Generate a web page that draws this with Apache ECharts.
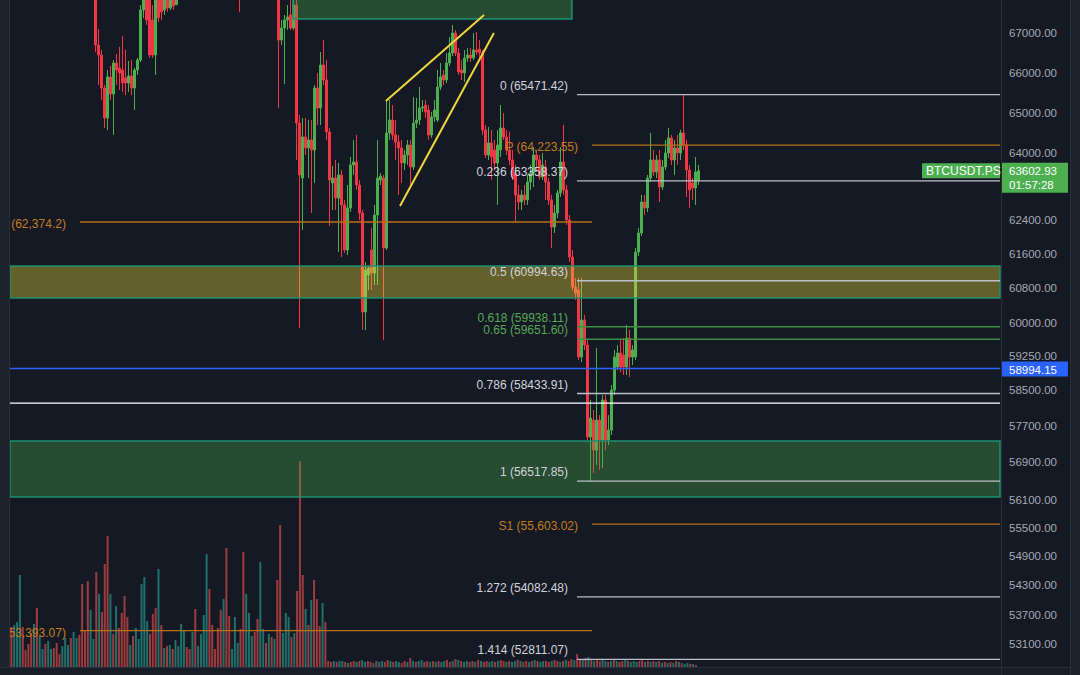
<!DOCTYPE html>
<html><head><meta charset="utf-8">
<script src="https://cdn.jsdelivr.net/npm/echarts@6/dist/echarts.min.js"></script>
<style>html,body{margin:0;padding:0;background:#151924;}#c{width:1080px;height:675px;}</style>
</head><body><div id="c"></div><script>
// ---------- data ----------
const slotCount = 330;          // candle slots on the time axis (incl. empty future space)
const volSlotCount = 350;       // volume histogram slots
const priceMin = 52659, priceMax = 67872;

// candles: [open, close, low, high]
const candles = [
 // 0-27 (above visible range)
 [69050,68720,68600,69240],[68720,68980,68640,69180],[68980,68650,68500,69120],[68650,68880,68560,69010],[68880,69210,68810,69380],
 [69210,68940,68870,69330],[68940,68610,68520,69060],[68610,68770,68480,68900],[68770,68450,68390,68860],[68450,68620,68310,68750],
 [68620,68900,68570,69020],[68900,69180,68850,69290],[69180,69420,69060,69560],[69420,69150,69080,69510],[69150,68870,68800,69240],
 [68870,68600,68540,68960],[68600,68330,68250,68700],[68330,68560,68280,68640],[68560,68840,68500,68930],[68840,68700,68620,68990],
 [68700,68420,68360,68780],[68420,68240,68160,68500],[68240,68470,68190,68560],[68470,68300,68220,68550],[68300,68150,68080,68380],
 [68150,68340,68100,68420],[68340,68200,68130,68410],[68200,68320,68060,68400],
 // 28-54
 [68260,66720,66542,68521],[66720,66466,65712,67128],[66466,65637,65338,66593],[65637,64892,64646,65712],[64892,65912,64597,66088],
 [65912,65487,65338,66189],[65487,66264,64475,66340],[66264,66088,65712,66492],[66139,66013,65587,66669],[66088,65762,65537,66949],
 [65887,65762,65462,66593],[65762,65938,65537,66315],[65938,65637,65462,66340],[65637,66088,65090,66139],[66088,66340,65963,66391],
 [66340,67614,66290,67743],[67614,68001,67409,68260],[68130,67358,67230,68390],[67872,66466,66391,68130],[67358,66466,66391,67743],
 [66466,67872,65963,68130],[67872,67409,67307,68130],[68001,67563,67358,68260],[67614,67950,67486,68130],[67950,67666,67563,68183],
 [67666,67872,67614,68130],[67872,67717,67614,68130],
 // 55-75 (above visible range)
 [67750,68120,67910,68200],[68120,68380,68050,68460],[68380,68650,68300,68720],[68650,68520,68430,68790],[68520,68810,68470,68900],
 [68810,69060,68740,69150],[69060,68890,68800,69170],[68890,69130,68840,69240],[69130,69380,69050,69470],[69380,69190,69100,69450],
 [69190,68960,68900,69260],[68960,68720,68650,69020],[68720,68880,68640,68950],[68880,68610,68550,68930],[68610,68420,68350,68690],
 [68420,68580,68370,68660],[68580,68310,68260,68640],[68310,68180,68100,68380],[68180,68350,68120,68430],[68350,68510,68290,68590],
 [68510,68300,68240,68570],
 // 76
 [68390,68001,67563,68652],
 // 77-87 (above visible range)
 [68050,68320,67980,68400],[68320,68560,68260,68640],[68560,68410,68330,68690],[68410,68690,68380,68770],[68690,68900,68620,68990],
 [68900,68730,68660,68980],[68730,68980,68700,69050],[68980,68820,68750,69060],[68820,68600,68540,68880],[68600,68450,68380,68660],
 [68450,68390,68300,68520],
 // 88-124
 [68390,68001,67880,68652],[68001,66846,65139,68260],[66846,67153,66720,67358],[67153,67358,65737,67486],[67358,67435,67102,67743],
 [67486,67153,67102,67872],[67153,67743,67102,68001],[67743,64769,63864,68001],[64769,63500,59909,64966],[63427,64426,62185,64892],
 [64426,64157,63986,64892],[64157,64352,63427,64843],[64352,64108,62589,64843],[64108,65637,63307,65712],[65637,65139,64720,66013],
 [65139,66214,64720,66542],[66214,65837,65712,66846],[65837,64548,64352,66340],[64548,63379,62280,64646],[63307,63427,62660,63718],
 [63427,62947,62660,63864],[62947,63500,61667,63791],[63500,62780,61549,63621],[62780,61714,61643,62899],[61714,62708,61596,63259],
 [62708,63743,62612,63937],[63743,63815,63500,64352],[63815,63259,63139,64475],[63259,62589,62422,63379],[62589,60275,59863,62660],
 [60275,61245,59863,61431],[61129,61291,60781,61361],[61714,61175,60781,62233],[61175,62541,60897,62780],[62541,63427,60897,64352],
 [63379,63476,63259,63548],[63427,61761,59635,63500],
 // 125-156
 [61761,64524,61714,65338],[64524,64843,64352,65338],[64843,64475,64352,65214],[64475,64303,63864,64843],[64303,64157,63019,64475],
 [64157,63791,63307,64352],[63791,63986,63621,64108],[63986,64230,63743,64352],[64230,63694,63211,64352],[63694,64769,63621,65412],
 [64769,64843,64646,65388],[64843,65139,64720,65662],[65139,65164,65041,65338],[65214,65041,64892,65338],[65090,64475,64352,65214],
 [64475,64917,64401,65041],[64917,65090,64794,65338],[64843,65662,64794,66088],[65662,65912,65587,66264],[65963,65837,65712,66088],
 [65837,66264,65762,66517],[66264,66517,66189,66923],[66517,67025,66441,67230],[67025,66517,66441,67102],[66517,66038,65963,66644],
 [66088,66013,65837,66340],[66013,66391,65787,66593],[66391,66466,66290,66644],[66466,66391,66290,66644],[66391,66593,66340,67025],
 [66593,66542,66466,67051],[66618,66517,66391,66846],
 // 157-188
 [66517,64597,64475,66593],[64597,63986,63913,64720],[63986,64279,63864,64671],[64279,63937,63379,64597],[64108,63791,63621,64352],
 [63791,64230,62780,64597],[64108,64646,63937,65214],[64646,64426,64352,65016],[64426,64108,63986,64597],[64108,63864,63743,64548],
 [63864,63452,63379,64108],[63548,63019,62375,63743],[63019,62851,62660,63259],[62851,63019,62660,63139],[63019,62899,62780,63259],
 [62899,63331,62780,63500],[63331,63548,63139,63743],[63548,63986,63211,64181],[63986,63864,63573,64108],[63864,63452,63379,63986],
 [63452,63743,63379,64035],[63694,63331,62899,63864],[63331,62899,62780,63427],[62899,62256,61761,63019],[62256,62589,62114,62780],
 [62589,63067,62470,63139],[63067,63815,62971,64181],[63815,63139,63019,64720],[63139,62422,62304,63259],[62422,61549,61431,62541],
 [61549,60850,60781,61714],[60850,60712,60550,61059],
 // 189-229
 [60781,59251,59183,61059],[59251,60091,59138,61059],[60091,59522,59409,60206],[59522,57474,57408,59635],[57474,57891,56517.85,58289],
 [57847,57190,56692,58067],[57190,57847,56865,59454],[57847,57408,56757,57957],[57408,58289,56800,58400],[58289,57408,57190,58400],
 [57408,57627,57299,57957],[57627,58511,57518,58623],[58511,59251,58400,59409],[59026,59341,58958,59522],[59341,59026,58913,59635],
 [59296,59026,58846,59681],[59026,59681,58846,59977],[59681,59251,58801,59863],[59251,59409,59071,59522],[59251,61667,59183,61761],
 [61667,62114,61573,62233],[62114,62851,62043,63019],[62851,62708,62541,63019],[62708,63427,62612,63500],[63427,63864,63331,64524],
 [63864,63573,63476,64108],[63573,63864,63427,63986],[63864,63211,62851,64108],[63211,63694,63139,63864],[63694,64035,63621,64352],
 [64035,64401,63913,64646],[64401,63864,63743,64475],[63864,64157,63500,64352],[64157,64035,63743,64475],[64035,64524,63864,64597],
 [64524,64230,64108,65471.42],[64230,63621,62971,64352],[63621,63139,62708,63743],[63307,63187,62899,63427],[63187,63573,62780,63937],
 [63379,63602.93,63259,63743]
];

// volume histogram (arbitrary units) and side of each bar (g = up, r = down)
const volume = [
 400,420,450,920,400,170,230,340,430,590, 310,180,230,260,180,190,240,130,210,290,
 220,290,350,290,320,830,360,860,570,280, 950,730,550,1030,1310,730,330,610,390,540,
 710,500,220,310,390,280,830,900,460,330, 530,590,980,420,190,210,220,180,270,210,
 430,370,200,180,350,580,210,330,520,1130, 780,420,180,390,570,680,1190,510,180,500,
 240,380,1150,730,540,310,350,480,1050,380, 240,330,300,280,870,1420,340,540,500,300,
 340,760,2060,920,580,420,670,870,680,410, 640,450,
 60,50,60,50,60,60,50,40,50,60,50,60,70,50,60,50,40,60,50,
 60,50,70,60,50,60,50,40,60,50,90,60,50,60,70,50,60,50,60,50,
 60,50,60,70,50,60,80,70,60,50,60,50,60,50,70,60,50,60,50,60,
 50,60,70,60,50,60,50,60,70,60,50,60,50,60,70,60,50,60,60,50,
 60,70,60,50,60,70,60,80,70,130,80,70,90,100,70,60,80,60,70,60,
 50,60,70,60,50,60,70,60,50,60,50,60,70,50,60,50,60,50,60,40,
 50,40,50,40,60,50,40,30,40,30,30,20
];
const volumeSide =
 "rgggrrrrgr" + "ggrggrrrgg" + "grggrrrrgg" + "rgrrrgrgrr" + "rrgrgggggr" + "rrgrgrgrgg" +
 "ggrrgrgggg" + "rrrrrgrrgg" + "grrgggrrgg" + "rgrgrrgggr" + "grrrgrgrrr" + "gr" +
 "rrgrggrgrrgrggrrgrg" + "grrgrggrrgrgrggrrgrg" + "rggrrgrgrggrrgrgrrgg" + "rgrrgrggrgrrgrgrggrr" +
 "grrgrgrrgrrgrgrgrrgg" + "rgrgrrgrgggrrgrgrgrg" + "rgrgrgrggrgr";

const tickValues = [67000,66000,65000,64000,62400,61600,60800,60000,59250,58500,57700,56900,56100,55500,54900,54300,53700,53100];

const fibRatios = ['0','0.236','0.5','0.618','0.65','0.786','1','1.272','1.414'];
const fibPrices = [65471.42,63358.37,60994.63,59938.11,59651.60,58433.91,56517.85,54082.48,52811.07];
const pivotNames = ['P','S1'];
const pivotPrices = [64223.55,55603.02];
const levelPrices = [62374.2,53393.07];
const alertPrice = 58994.15;
const markerPrice = 58222;
const lastPrice = 63602.93;
const countdown = '01:57:28';
const symbolName = 'BTCUSDT.PS';

// zones: [fromSlot, toSlot, topPrice, bottomPrice]
const zoneFrom = [93.8,-0.5,-0.5];
const zoneTo = [186.8,329.5,329.5];
const zoneTop = [68500,61338,57386];
const zoneBottom = [67384,60596,56176];
// wedge trend lines: [slot, price] start / end
const wedgeStart = [[124.8,65313],[129.5,62756]];
const wedgeEnd = [[157.5,67486],[160.8,67025]];

// ---------- build ----------
const FONT = '12px "Liberation Sans", Arial, sans-serif';
const AXFONT = '11.5px "Liberation Sans", Arial, sans-serif';
const fmt = v => v.toLocaleString('en-US');
const slotLabels = Array.from({length: slotCount}, (_, i) => 'c' + i);
const volLabels = Array.from({length: volSlotCount}, (_, i) => 'v' + i);

const FIB_START = 188.5, PIV_START = 193.5, LVL_START = 22.8, RIGHT = 329.5, LEFT = -0.5;
const hLines = [];
fibRatios.forEach((r, k) => {
  const green = (r === '0.618' || r === '0.65');
  hLines.push({x1: FIB_START, x2: RIGHT, p: fibPrices[k], color: green ? '#3f8f43' : '#bcbfc7', width: 1.4,
    text: r + ' (' + fibPrices[k].toFixed(2) + ')', tcolor: green ? '#56a957' : '#d1d4dc', gap: 9, dy: -9});
});
pivotNames.forEach((n, k) => hLines.push({x1: PIV_START, x2: RIGHT, p: pivotPrices[k], color: '#b86f16', width: 1.3,
    text: n + ' (' + fmt(pivotPrices[k]) + ')', tcolor: '#c47d1d', gap: 14, dy: 2}));
levelPrices.forEach((p) => hLines.push({x1: LVL_START, x2: PIV_START, p: p, color: '#b86f16', width: 1.3,
    text: '(' + fmt(p) + ')', tcolor: '#c47d1d', gap: 14, dy: 2}));
hLines.push({x1: LEFT, x2: RIGHT, p: alertPrice, color: '#2962ff', width: 1.5});
hLines.push({x1: LEFT, x2: RIGHT, p: markerPrice, color: '#ffffff', width: 1.3});

const zones = zoneFrom.map((f, k) => [f, zoneTop[k], zoneTo[k], zoneBottom[k]]);
const zoneFill = ['rgba(76,175,80,0.34)','rgba(255,235,59,0.34)','rgba(76,175,80,0.34)'];

const chart = echarts.init(document.getElementById('c'), null, {renderer: 'svg'});
chart.setOption({
  backgroundColor: '#151924',
  animation: false,
  grid: [
    {left: 10, right: 80, top: 0, bottom: 8},
    {left: 1002, width: 68, top: 0, bottom: 8}
  ],
  xAxis: [
    {type: 'category', gridIndex: 0, data: slotLabels, show: false, boundaryGap: true},
    {type: 'value', gridIndex: 0, min: -0.5, max: slotCount - 0.5, show: false},
    {type: 'category', gridIndex: 0, data: volLabels, show: false, boundaryGap: true},
    {type: 'value', gridIndex: 1, min: 0, max: 1, show: false}
  ],
  yAxis: [
    {type: 'log', gridIndex: 0, min: priceMin, max: priceMax, show: false},
    {type: 'value', gridIndex: 0, min: 0, max: 6670, show: false},
    {type: 'log', gridIndex: 1, min: priceMin, max: priceMax, show: false}
  ],
  series: [
    {type: 'bar', xAxisIndex: 2, yAxisIndex: 1, barWidth: 2, z: 1, silent: true,
     data: volume.map((v, j) => ({value: v, itemStyle: {color: volumeSide[j] === 'g' ? 'rgba(38,166,154,0.62)' : 'rgba(239,83,80,0.62)'}}))},
    {type: 'candlestick', xAxisIndex: 0, yAxisIndex: 0, z: 2, clip: true, barWidth: 2.6, silent: true,
     itemStyle: {color: '#4caf50', color0: '#f23645', borderColor: '#4caf50', borderColor0: '#f23645', borderWidth: 1},
     data: candles},
    {type: 'custom', xAxisIndex: 1, yAxisIndex: 0, z: 3, silent: true, data: zones,
     renderItem: (params, api) => {
       const a = api.coord([api.value(0), api.value(1)]);
       const b = api.coord([api.value(2), api.value(3)]);
       const cs = params.coordSys;
       const top = Math.max(a[1], cs.y - 3);
       return {type: 'rect', shape: {x: a[0], y: top, width: b[0] - a[0], height: b[1] - top},
               style: {fill: zoneFill[params.dataIndex], stroke: '#1f8f72', lineWidth: 1.5}};
     }},
    {type: 'custom', xAxisIndex: 1, yAxisIndex: 0, z: 4, silent: true,
     data: hLines.map(l => [l.x1, l.p, l.x2]),
     renderItem: (params, api) => {
       const L = hLines[params.dataIndex];
       const a = api.coord([api.value(0), api.value(1)]);
       const b = api.coord([api.value(2), api.value(1)]);
       const ch = [{type: 'line', shape: {x1: a[0], y1: a[1], x2: b[0], y2: b[1]}, style: {stroke: L.color, lineWidth: L.width}}];
       if (L.text) ch.push({type: 'text', x: a[0] - L.gap, y: a[1] + L.dy,
         style: {text: L.text, fill: L.tcolor, font: FONT, align: 'right', verticalAlign: 'middle'}});
       return {type: 'group', children: ch};
     }},
    {type: 'custom', xAxisIndex: 1, yAxisIndex: 0, z: 5, silent: true,
     data: wedgeStart.map((s, k) => [s[0], s[1], wedgeEnd[k][0], wedgeEnd[k][1]]),
     renderItem: (params, api) => {
       const a = api.coord([api.value(0), api.value(1)]);
       const b = api.coord([api.value(2), api.value(3)]);
       return {type: 'line', shape: {x1: a[0], y1: a[1], x2: b[0], y2: b[1]}, style: {stroke: '#eed83a', lineWidth: 2}};
     }},
    {type: 'custom', xAxisIndex: 3, yAxisIndex: 2, z: 5, silent: true, clip: false,
     data: tickValues.map(v => [0, v]),
     renderItem: (params, api) => {
       const c = api.coord([0, api.value(1)]);
       return {type: 'text', x: c[0] + 7, y: c[1] - 1,
         style: {text: api.value(1).toFixed(2), fill: '#a6a9b2', font: AXFONT, align: 'left', verticalAlign: 'middle'}};
     }},
    {type: 'custom', xAxisIndex: 3, yAxisIndex: 2, z: 6, silent: true, clip: false,
     data: [[0, lastPrice], [0, alertPrice]],
     renderItem: (params, api) => {
       const c = api.coord([0, api.value(1)]);
       if (params.dataIndex === 0) {
         return {type: 'group', children: [
           {type: 'rect', shape: {x: c[0] - 80, y: c[1] - 7.5, width: 78, height: 15}, style: {fill: '#4caf50'}},
           {type: 'text', x: c[0] - 76, y: c[1], style: {text: symbolName, fill: '#ffffff', font: FONT, verticalAlign: 'middle'}},
           {type: 'rect', shape: {x: c[0], y: c[1] - 8, width: 66, height: 30}, style: {fill: '#4caf50'}},
           {type: 'text', x: c[0] + 7, y: c[1], style: {text: lastPrice.toFixed(2), fill: '#ffffff', font: AXFONT, verticalAlign: 'middle'}},
           {type: 'text', x: c[0] + 7, y: c[1] + 14, style: {text: countdown, fill: '#ffffff', font: AXFONT, verticalAlign: 'middle'}}
         ]};
       }
       return {type: 'group', children: [
         {type: 'rect', shape: {x: c[0], y: c[1] - 7, width: 66, height: 15}, style: {fill: '#2962ff'}},
         {type: 'text', x: c[0] + 7, y: c[1] + 1.5, style: {text: alertPrice.toFixed(2), fill: '#ffffff', font: AXFONT, verticalAlign: 'middle'}}
       ]};
     }}
  ],
  graphic: [
    {type: 'rect', z: 100, shape: {x: 0, y: 0, width: 9, height: 675}, style: {fill: '#1e222d'}},
    {type: 'line', z: 100, shape: {x1: 9.5, y1: 0, x2: 9.5, y2: 675}, style: {stroke: '#2a2e39', lineWidth: 1}},
    {type: 'rect', z: 100, shape: {x: 0, y: 667, width: 1080, height: 8}, style: {fill: '#1a1e29'}},
    {type: 'line', z: 100, shape: {x1: 0, y1: 667.5, x2: 1080, y2: 667.5}, style: {stroke: '#2a2e39', lineWidth: 1}},
    {type: 'line', z: 100, shape: {x1: 1001.5, y1: 0, x2: 1001.5, y2: 675}, style: {stroke: '#2a2e39', lineWidth: 1}},
    {type: 'rect', z: 100, shape: {x: 1070, y: 0, width: 10, height: 675}, style: {fill: '#1e222d'}},
    {type: 'line', z: 100, shape: {x1: 1070.5, y1: 0, x2: 1070.5, y2: 675}, style: {stroke: '#2a2e39', lineWidth: 1}}
  ]
});
</script></body></html>
